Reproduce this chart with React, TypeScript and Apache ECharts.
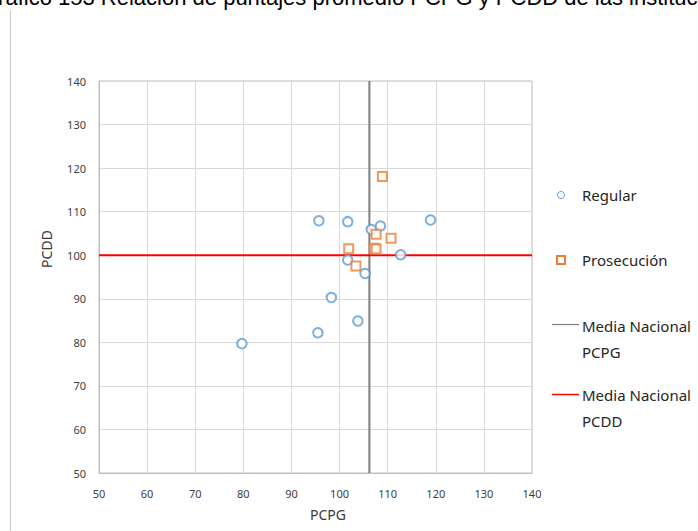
import React, { useEffect, useRef } from "react";
import * as echarts from "echarts";

const titleText = "Gráfico 153 Relación de puntajes promedio PCPG y PCDD de las instituciones";
const xAxisName = "PCPG";
const yAxisName = "PCDD";
const xMin = 50;
const xMax = 140;
const yMin = 50;
const yMax = 140;
const tickStep = 10;

const regularX = [95.7, 101.7, 106.6, 108.5, 118.9, 112.7, 101.7, 105.3, 98.3, 103.8, 95.5, 79.7];
const regularY = [107.9, 107.7, 105.9, 106.7, 108.1, 100.1, 98.9, 95.8, 90.3, 84.9, 82.2, 79.7];

const prosecucionX = [108.9, 107.6, 110.7, 101.9, 107.2, 107.6, 103.4];
const prosecucionY = [118.1, 104.8, 103.9, 101.5, 101.6, 101.4, 97.5];

const meanPCPG = 106.2;
const meanPCDD = 100;

const seriesNames = ["Regular", "Prosecución", "Media Nacional\nPCPG", "Media Nacional\nPCDD"];

const BLUE = "#5b9bd5";
const ORANGE = "#ed7d31";
const GRAY = "#7f7f7f";
const RED = "#ff0000";
const FONT = "Noto Sans";

export default function App() {
  const ref = useRef<HTMLDivElement>(null);

  useEffect(() => {
    if (!ref.current) return;
    const chart = echarts.init(ref.current, null, { renderer: "svg" });

    const regularData = regularX.map((x, i) => [x, regularY[i]]);
    const prosData = prosecucionX.map((x, i) => [x, prosecucionY[i]]);

    const legendText = (t: string, x: number, y: number) => ({
      type: "text",
      left: x,
      top: y,
      style: {
        text: t,
        fill: "#262626",
        font: `15px "${FONT}"`,
        lineHeight: 26,
      },
    });

    chart.setOption({
      animation: false,
      backgroundColor: "#ffffff",
      grid: { left: 99, top: 81, width: 433, height: 392, show: true, borderColor: "#bfbfbf", borderWidth: 1 },
      xAxis: {
        type: "value",
        min: xMin,
        max: xMax,
        interval: tickStep,
        axisLine: { show: true, lineStyle: { color: "#bfbfbf" } },
        axisTick: { show: false },
        splitLine: { show: true, lineStyle: { color: "#d9d9d9" } },
        axisLabel: { color: "#404040", fontFamily: FONT, fontSize: 11, margin: 15 },
      },
      yAxis: {
        type: "value",
        min: yMin,
        max: yMax,
        interval: tickStep,
        axisLine: { show: true, lineStyle: { color: "#bfbfbf" } },
        axisTick: { show: false },
        splitLine: { show: true, lineStyle: { color: "#d9d9d9" } },
        axisLabel: { color: "#404040", fontFamily: FONT, fontSize: 11, margin: 13 },
      },
      series: [
        {
          name: seriesNames[2],
          type: "line",
          data: [[meanPCPG, yMin], [meanPCPG, yMax]],
          symbol: "none",
          silent: true,
          lineStyle: { color: GRAY, width: 2 },
          z: 1,
        },
        {
          name: seriesNames[3],
          type: "line",
          data: [[xMin, meanPCDD], [xMax, meanPCDD]],
          symbol: "none",
          silent: true,
          lineStyle: { color: RED, width: 2 },
          z: 1,
        },
        {
          name: seriesNames[0],
          type: "scatter",
          data: regularData,
          symbol: "circle",
          symbolSize: 9.5,
          itemStyle: { color: "#ffffff", borderColor: BLUE, borderWidth: 2 },
          z: 3,
        },
        {
          name: seriesNames[1],
          type: "scatter",
          data: prosData,
          symbol: "rect",
          symbolSize: 9,
          itemStyle: { color: "#ffffff", borderColor: ORANGE, borderWidth: 2 },
          z: 4,
        },
      ],
      graphic: [
        {
          type: "text",
          left: -19,
          top: -14,
          style: { text: titleText, fill: "#000000", font: `22px "Liberation Sans"` },
        },
        {
          type: "line",
          shape: { x1: 10.5, y1: 10, x2: 10.5, y2: 531 },
          style: { stroke: "#c8c8c8", lineWidth: 1 },
        },
        {
          type: "text",
          x: 328,
          y: 514,
          style: { text: xAxisName, fill: "#3a3a3a", font: `14px "${FONT}"`, align: "center", verticalAlign: "middle" },
        },
        {
          type: "text",
          x: 46,
          y: 249,
          rotation: Math.PI / 2,
          style: { text: yAxisName, fill: "#3a3a3a", font: `14px "${FONT}"`, align: "center", verticalAlign: "middle" },
        },
        {
          type: "circle",
          shape: { cx: 561, cy: 195, r: 3.5 },
          style: { fill: "#ffffff", stroke: BLUE, lineWidth: 1 },
        },
        legendText(seriesNames[0], 582, 182),
        {
          type: "rect",
          shape: { x: 557, y: 256, width: 8, height: 8 },
          style: { fill: "#ffffff", stroke: ORANGE, lineWidth: 2 },
        },
        legendText(seriesNames[1], 582, 247),
        {
          type: "line",
          shape: { x1: 552, y1: 324.5, x2: 579, y2: 324.5 },
          style: { stroke: GRAY, lineWidth: 1.2 },
        },
        legendText(seriesNames[2], 582, 313),
        {
          type: "line",
          shape: { x1: 552, y1: 394.5, x2: 579, y2: 394.5 },
          style: { stroke: RED, lineWidth: 1.5 },
        },
        legendText(seriesNames[3], 582, 382),
      ],
    });

    return () => chart.dispose();
  }, []);

  return (
    <div
      ref={ref}
      style={{ position: "fixed", left: 0, top: 0, width: 698, height: 531, background: "#fff" }}
    />
  );
}
